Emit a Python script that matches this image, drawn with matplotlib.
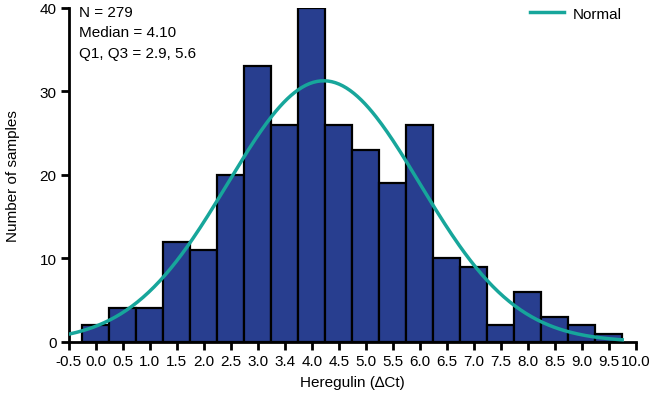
import numpy as np
import matplotlib.pyplot as plt

plt.rcParams['font.family'] = ['Liberation Sans Narrow', 'Liberation Sans', 'DejaVu Sans']

tick_pos = np.arange(-0.5, 10.01, 0.5)
tick_labels = ['-0.5', '0.0', '0.5', '1.0', '1.5', '2.0', '2.5', '3.0', '3.4', '4.0', '4.5',
               '5.0', '5.5', '6.0', '6.5', '7.0', '7.5', '8.0', '8.5', '9.0', '9.5', '10.0']
bin_centers = np.arange(0.0, 9.51, 0.5)
counts = [2, 4, 4, 12, 11, 20, 33, 26, 40, 26, 23, 19, 26, 10, 9, 2, 6, 3, 2, 1]
n_samples = 279
fit_mean = 4.22
fit_sd = 1.78
bin_w = 0.5

fig = plt.figure(figsize=(6.5, 4.02), dpi=100)
ax = fig.add_axes([0.106, 0.147, 0.872, 0.831])

ax.bar(bin_centers, counts, width=bin_w, color='#283e8f', edgecolor='black', linewidth=1.6, zorder=2)

xs = np.linspace(-0.5, 9.75, 300)
ys = n_samples * bin_w / (fit_sd * np.sqrt(2 * np.pi)) * np.exp(-0.5 * ((xs - fit_mean) / fit_sd) ** 2)
ax.plot(xs, ys, color='#17a69b', lw=2.5, zorder=3, label='Normal')

ax.set_xlim(-0.5, 10.0)
ax.set_ylim(0, 40)
ax.set_xticks(tick_pos)
ax.set_xticklabels(tick_labels)
ax.set_yticks([0, 10, 20, 30, 40])
for s in ['top', 'right']:
    ax.spines[s].set_visible(False)
for s in ['left', 'bottom']:
    ax.spines[s].set_linewidth(2)
ax.tick_params(width=2, length=6, labelsize=11, pad=3)

ax.set_xlabel('Heregulin (\u2206Ct)', fontsize=11, labelpad=5)
ax.set_ylabel('Number of samples', fontsize=11, labelpad=14)

ax.text(0.018, 1.01, 'N = 279\nMedian = 4.10\nQ1, Q3 = 2.9, 5.6', transform=ax.transAxes,
        ha='left', va='top', fontsize=11, linespacing=1.6)
ax.legend(loc='upper right', frameon=False, fontsize=11, handlelength=2.2,
          handletextpad=0.6, bbox_to_anchor=(1.0, 1.045))

fig.savefig('out.png', dpi=100)
